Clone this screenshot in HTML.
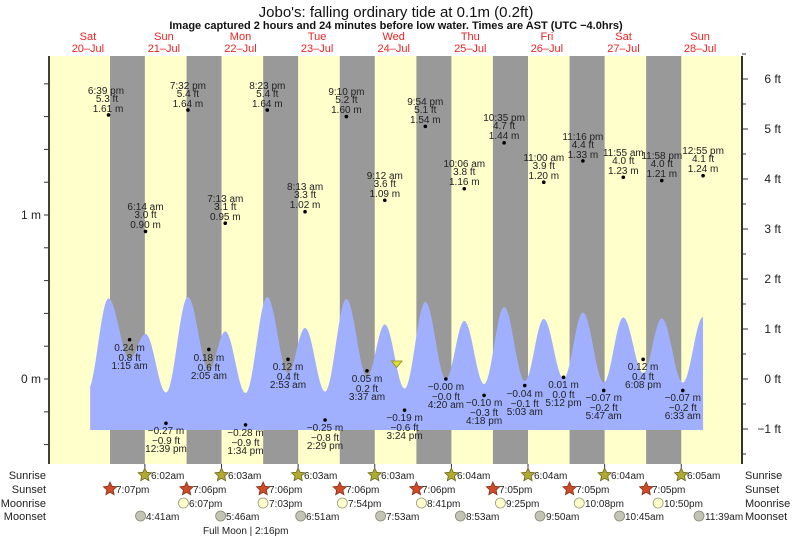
<!DOCTYPE html>
<html><head><meta charset="utf-8"><style>
html,body{margin:0;padding:0;background:#fff;}
svg{display:block;font-family:"Liberation Sans",sans-serif;}
.t{font-size:10px;fill:#222;text-anchor:middle;}
.d{font-size:11px;fill:#ee2222;text-anchor:middle;}
.r{font-size:11px;fill:#222;}
</style></head><body>
<svg id="s" width="793" height="538" viewBox="0 0 793 538" xmlns="http://www.w3.org/2000/svg">
<rect x="49" y="56" width="693" height="408" fill="#ffffcc"/>
<g id="bands"></g>
<path id="curve" fill="#a0b0ff"/>
<g id="dots"></g>
<polygon points="391.5,361 402,361 396.7,367.5" fill="#e0e030" stroke="#888820" stroke-width="0.8"/>
<line x1="49" y1="56" x2="49" y2="464" stroke="#000" stroke-width="1.5"/>
<line x1="742" y1="56" x2="742" y2="464" stroke="#333" stroke-width="2"/>
<g id="ticks" stroke="#333" stroke-width="1"></g>
<g id="icons"></g>

<text x="396" y="17" style="font-size:15px;fill:#111" text-anchor="middle">Jobo's: falling  ordinary tide at 0.1m (0.2ft)</text>
<text x="396" y="29" style="font-size:11px;font-weight:bold;fill:#111" text-anchor="middle">Image captured 2 hours and 24 minutes before low water. Times are AST (UTC −4.0hrs)</text>

<text class="d" x="87.9" y="40">Sat</text><text class="d" x="87.9" y="52">20–Jul</text>
<text class="d" x="163.9" y="40">Sun</text><text class="d" x="163.9" y="52">21–Jul</text>
<text class="d" x="240.5" y="40">Mon</text><text class="d" x="240.5" y="52">22–Jul</text>
<text class="d" x="317.1" y="40">Tue</text><text class="d" x="317.1" y="52">23–Jul</text>
<text class="d" x="393.7" y="40">Wed</text><text class="d" x="393.7" y="52">24–Jul</text>
<text class="d" x="470.3" y="40">Thu</text><text class="d" x="470.3" y="52">25–Jul</text>
<text class="d" x="546.9" y="40">Fri</text><text class="d" x="546.9" y="52">26–Jul</text>
<text class="d" x="623.5" y="40">Sat</text><text class="d" x="623.5" y="52">27–Jul</text>
<text class="d" x="700.1" y="40">Sun</text><text class="d" x="700.1" y="52">28–Jul</text>

<g style="font-size:12px;fill:#222">
<text x="41" y="219" text-anchor="end">1 m</text>
<text x="41" y="383" text-anchor="end">0 m</text>
<text x="781" y="83" text-anchor="end">6 ft</text>
<text x="781" y="133" text-anchor="end">5 ft</text>
<text x="781" y="183" text-anchor="end">4 ft</text>
<text x="781" y="233" text-anchor="end">3 ft</text>
<text x="781" y="283" text-anchor="end">2 ft</text>
<text x="781" y="333" text-anchor="end">1 ft</text>
<text x="781" y="383" text-anchor="end">0 ft</text>
<text x="781" y="433" text-anchor="end">−1 ft</text>
</g>

<g class="t">
<text x="106" y="94">6:39 pm</text><text x="107" y="102">5.3 ft</text><text x="108" y="112">1.61 m</text>
<text x="145.5" y="210">6:14 am</text><text x="145.5" y="218">3.0 ft</text><text x="145.5" y="228">0.90 m</text>
<text x="187.9" y="89">7:32 pm</text><text x="187.9" y="97">5.4 ft</text><text x="187.9" y="107">1.64 m</text>
<text x="225.3" y="202">7:13 am</text><text x="225.3" y="210">3.1 ft</text><text x="225.3" y="220">0.95 m</text>
<text x="267.3" y="89">8:23 pm</text><text x="267.3" y="97">5.4 ft</text><text x="267.3" y="107">1.64 m</text>
<text x="305.1" y="190">8:13 am</text><text x="305.1" y="198">3.3 ft</text><text x="305.1" y="208">1.02 m</text>
<text x="346.4" y="95">9:10 pm</text><text x="346.4" y="103">5.2 ft</text><text x="346.4" y="113">1.60 m</text>
<text x="384.8" y="179">9:12 am</text><text x="384.8" y="187">3.6 ft</text><text x="384.8" y="197">1.09 m</text>
<text x="425.3" y="105">9:54 pm</text><text x="425.3" y="113">5.1 ft</text><text x="425.3" y="123">1.54 m</text>
<text x="464.3" y="167">10:06 am</text><text x="464.3" y="175">3.8 ft</text><text x="464.3" y="185">1.16 m</text>
<text x="504.1" y="121">10:35 pm</text><text x="504.1" y="129">4.7 ft</text><text x="504.1" y="139">1.44 m</text>
<text x="543.8" y="161">11:00 am</text><text x="543.8" y="169">3.9 ft</text><text x="543.8" y="179">1.20 m</text>
<text x="582.9" y="140">11:16 pm</text><text x="582.9" y="148">4.4 ft</text><text x="582.9" y="158">1.33 m</text>
<text x="623.3" y="156">11:55 am</text><text x="623.3" y="164">4.0 ft</text><text x="623.3" y="174">1.23 m</text>
<text x="661.8" y="159">11:58 pm</text><text x="661.8" y="167">4.0 ft</text><text x="661.8" y="177">1.21 m</text>
<text x="703.1" y="154">12:55 pm</text><text x="703.1" y="162">4.1 ft</text><text x="703.1" y="172">1.24 m</text>
</g>
<g class="t">
<text x="129.6" y="351">0.24 m</text><text x="129.6" y="361">0.8 ft</text><text x="129.6" y="369">1:15 am</text>
<text x="166" y="434">−0.27 m</text><text x="166" y="444">−0.9 ft</text><text x="166" y="452">12:39 pm</text>
<text x="208.9" y="361">0.18 m</text><text x="208.9" y="371">0.6 ft</text><text x="208.9" y="379">2:05 am</text>
<text x="245.5" y="436">−0.28 m</text><text x="245.5" y="446">−0.9 ft</text><text x="245.5" y="454">1:34 pm</text>
<text x="288" y="370">0.12 m</text><text x="288" y="380">0.4 ft</text><text x="288" y="388">2:53 am</text>
<text x="325" y="431">−0.25 m</text><text x="325" y="441">−0.8 ft</text><text x="325" y="449">2:29 pm</text>
<text x="367" y="382">0.05 m</text><text x="367" y="392">0.2 ft</text><text x="367" y="400">3:37 am</text>
<text x="404.6" y="421">−0.19 m</text><text x="404.6" y="431">−0.6 ft</text><text x="404.6" y="439">3:24 pm</text>
<text x="445.9" y="390">−0.00 m</text><text x="445.9" y="400">−0.0 ft</text><text x="445.9" y="408">4:20 am</text>
<text x="484.1" y="406">−0.10 m</text><text x="484.1" y="416">−0.3 ft</text><text x="484.1" y="424">4:18 pm</text>
<text x="524.8" y="397">−0.04 m</text><text x="524.8" y="407">−0.1 ft</text><text x="524.8" y="415">5:03 am</text>
<text x="563.5" y="388">0.01 m</text><text x="563.5" y="398">0.0 ft</text><text x="563.5" y="406">5:12 pm</text>
<text x="603.7" y="401">−0.07 m</text><text x="603.7" y="411">−0.2 ft</text><text x="603.7" y="419">5:47 am</text>
<text x="643.1" y="370">0.12 m</text><text x="643.1" y="380">0.4 ft</text><text x="643.1" y="388">6:08 pm</text>
<text x="682.8" y="401">−0.07 m</text><text x="682.8" y="411">−0.2 ft</text><text x="682.8" y="419">6:33 am</text>
</g>

<g class="r">
<text x="46" y="479" text-anchor="end">Sunrise</text>
<text x="46" y="493" text-anchor="end">Sunset</text>
<text x="46" y="507" text-anchor="end">Moonrise</text>
<text x="46" y="520" text-anchor="end">Moonset</text>
<text x="745" y="479">Sunrise</text>
<text x="745" y="493">Sunset</text>
<text x="745" y="507">Moonrise</text>
<text x="745" y="520">Moonset</text>
</g>
<g style="font-size:10px;fill:#222">
<text x="151" y="479">6:02am</text><text x="228" y="479">6:03am</text><text x="304" y="479">6:03am</text><text x="381" y="479">6:03am</text>
<text x="457" y="479">6:04am</text><text x="534" y="479">6:04am</text><text x="611" y="479">6:04am</text><text x="687" y="479">6:05am</text>
<text x="116" y="493">7:07pm</text><text x="193" y="493">7:06pm</text><text x="269" y="493">7:06pm</text><text x="346" y="493">7:06pm</text>
<text x="422" y="493">7:06pm</text><text x="499" y="493">7:05pm</text><text x="576" y="493">7:05pm</text><text x="652" y="493">7:05pm</text>
<text x="189" y="507">6:07pm</text><text x="269" y="507">7:03pm</text><text x="348" y="507">7:54pm</text><text x="427" y="507">8:41pm</text>
<text x="506" y="507">9:25pm</text><text x="585" y="507">10:08pm</text><text x="664" y="507">10:50pm</text>
<text x="146" y="520">4:41am</text><text x="226" y="520">5:46am</text><text x="306" y="520">6:51am</text><text x="386" y="520">7:53am</text>
<text x="466" y="520">8:53am</text><text x="546" y="520">9:50am</text><text x="625" y="520">10:45am</text><text x="705" y="520">11:39am</text>
<text x="203" y="534">Full Moon | 2:16pm</text>
</g>
</svg>
<script>
(function(){
var NS="http://www.w3.org/2000/svg";
function X(t){return 125.6+3.192*t;}
function el(p,n,a){var e=document.createElementNS(NS,n);for(var k in a)e.setAttribute(k,a[k]);p.appendChild(e);return e;}
var bands=document.getElementById('bands');
var ss=[-4.88,19.1,43.1,67.1,91.1,115.08,139.08,163.08];
var sr=[6.03,30.05,54.05,78.05,102.07,126.07,150.07,174.08];
for(var i=0;i<8;i++){var a=X(ss[i]),b=X(sr[i]);el(bands,'rect',{x:a,y:56,width:b-a,height:408,fill:'#999999'});}
var ex=[[-11.9,-0.22],[-5.35,1.61],[1.25,0.24],[6.23,0.90],[12.65,-0.27],[19.53,1.64],[26.08,0.18],[31.22,0.95],[37.57,-0.28],[44.38,1.64],[50.88,0.12],[56.22,1.02],[62.48,-0.25],[69.17,1.60],[75.62,0.05],[81.2,1.09],[87.4,-0.19],[93.9,1.54],[100.33,0],[106.1,1.16],[112.3,-0.10],[118.58,1.44],[125.05,-0.04],[131,1.20],[137.2,0.01],[143.27,1.33],[149.78,-0.07],[155.92,1.23],[162.13,0.12],[167.97,1.21],[174.55,-0.07],[180.92,1.24]];
var cv=ex.map(function(e){return [e[0],e[1]];});
cv[2][1]=0.40;
var t0=-11.1,t1=180.92,d='M'+X(t0)+',430';
for(var t=t0;t<=t1+0.001;t+=0.1){
 var j=0;while(j<cv.length-2&&cv[j+1][0]<t)j++;
 var A=cv[j],B=cv[j+1],f=(t-A[0])/(B[0]-A[0]);f=Math.max(0,Math.min(1,f));
 var v=A[1]+(B[1]-A[1])*(1-Math.cos(Math.PI*f))/2;
 d+=' L'+X(t).toFixed(2)+','+(379-50*v).toFixed(2);
}
d+=' L'+X(t1)+',430 Z';
document.getElementById('curve').setAttribute('d',d);
var dots=document.getElementById('dots');
for(var i=1;i<ex.length;i++)el(dots,'circle',{cx:X(ex[i][0]),cy:379-164*ex[i][1],r:1.8,fill:'#000'});
var tk=document.getElementById('ticks');
for(var v=-0.4;v<=1.81;v+=0.2){var y=379-164*v;el(tk,'line',{x1:44,y1:y,x2:49,y2:y});}
for(var f=-1.5;f<=6.51;f+=0.5){var y=379-50*f;el(tk,'line',{x1:742,y1:y,x2:f%1==0?748:746,y2:y});}
for(var i=0;i<8;i++){var x=X(sr[i]);el(tk,'line',{x1:x,y1:464,x2:x,y2:468});}
var ic=document.getElementById('icons');
function star(cx,cy,fill,st){var p=[];for(var k=0;k<10;k++){var r=k%2?3.3:7,a=-Math.PI/2+k*Math.PI/5;p.push((cx+r*Math.cos(a)).toFixed(1)+','+(cy+r*Math.sin(a)).toFixed(1));}el(ic,'polygon',{points:p.join(' '),fill:fill,stroke:st,'stroke-width':0.8});}
for(var i=0;i<8;i++)star(X(sr[i]),475,'#b0aa30','#6a6620');
for(var i=0;i<8;i++)star(X(ss[i]),489,'#d04a28','#803018');
var mr=[18.12,43.05,67.9,92.68,117.42,142.13,166.83];
for(var i=0;i<mr.length;i++)el(ic,'circle',{cx:X(mr[i]),cy:503,r:5,fill:'#ffffcc',stroke:'#999977','stroke-width':0.8});
var ms=[4.68,29.77,54.85,79.88,104.88,129.83,154.75,179.65];
for(var i=0;i<ms.length;i++)el(ic,'circle',{cx:X(ms[i]),cy:516,r:5,fill:'#c4c4b4',stroke:'#888878','stroke-width':0.8});
})();
</script>
</body></html>
